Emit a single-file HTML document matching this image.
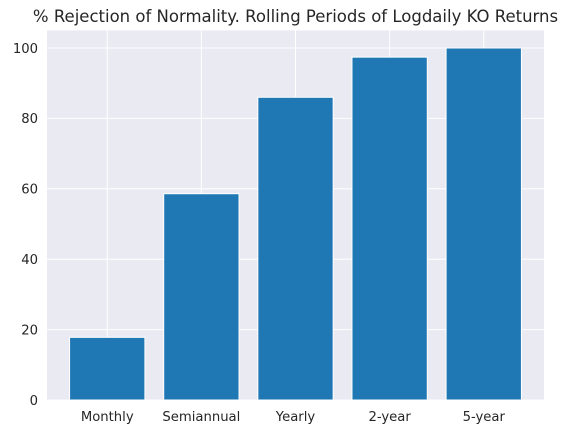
<!DOCTYPE html>
<html><head><meta charset="utf-8"><style>
body{margin:0;background:#fff;font-family:"DejaVu Sans","Liberation Sans",sans-serif;}
</style></head><body>
<svg id="c" width="569" height="433" xmlns="http://www.w3.org/2000/svg"></svg>
<script>
const categories=["Monthly","Semiannual","Yearly","2-year","5-year"];
const values=[17.8,58.6,86,97.4,100];
const yTicks=[0,20,40,60,80,100];
const svg=document.getElementById('c');
const NS="http://www.w3.org/2000/svg";
const L=47,R=544,T=30.4,B=400;
const x=i=>L+(i+0.64)/(5.28)*(R-L);
const y=v=>B-v/105*(B-T);
function mk(t,a,p){const e=document.createElementNS(NS,t);for(const k in a)e.setAttribute(k,a[k]);(p||svg).appendChild(e);return e;}
const bg=mk('rect',{x:L,y:T,width:R-L,height:B-T,fill:'#eaeaf2'});


yTicks.forEach(v=>{
 const g=mk('line',{x1:L,x2:R,y1:y(v),y2:y(v),stroke:'#fff','stroke-width':1});
 
 
 const t=mk('text',{x:L-9,y:y(v)+4.8,'text-anchor':'end','font-size':13.2,fill:'#262626'});
 t.textContent=v;
 
 
});
categories.forEach((c,i)=>{
 const g=mk('line',{x1:x(i),x2:x(i),y1:T,y2:B,stroke:'#fff','stroke-width':1});
 
 
});
const bw=(x(1)-x(0))*0.8;
categories.forEach((c,i)=>{
 const r=mk('rect',{x:x(i)-bw/2,y:y(values[i]),width:bw,height:B-y(values[i]),fill:'#1f77b4',stroke:'#fff','stroke-width':1});
 
 
 const t=mk('text',{x:x(i),y:B+21,'text-anchor':'middle','font-size':13.2,fill:'#262626'});
 t.textContent=c;
 
 
});
const ti=mk('text',{x:(L+R)/2,y:22,'text-anchor':'middle','font-size':16.5,fill:'#262626'});
ti.textContent="% Rejection of Normality. Rolling Periods of Logdaily KO Returns";


</script>
</body></html>
